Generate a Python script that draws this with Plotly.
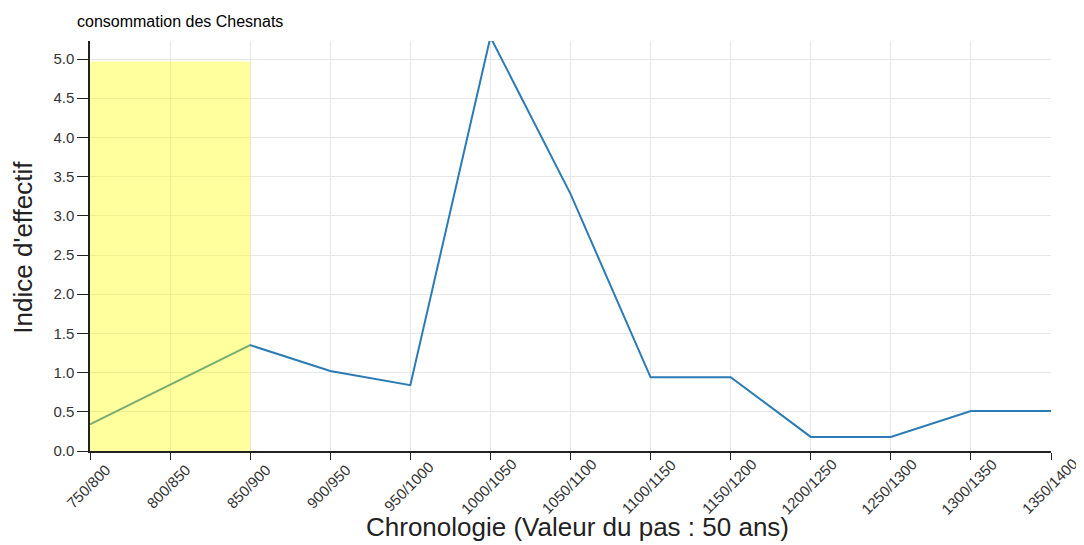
import plotly.graph_objects as go

periods = ["750/800", "800/850", "850/900", "900/950", "950/1000", "1000/1050",
           "1050/1100", "1100/1150", "1150/1200", "1200/1250", "1250/1300",
           "1300/1350", "1350/1400"]
indice = [0.34, 0.84, 1.35, 1.02, 0.84, 5.28, 3.28, 0.94, 0.94, 0.18, 0.18, 0.51, 0.51]
highlight_start = "750/800"
highlight_end = "850/900"
highlight_top = 4.97
y_max = 5.23

FONT = "Liberation Sans, Arial, sans-serif"

fig = go.Figure()
fig.add_trace(go.Scatter(
    x=periods, y=indice, mode="lines",
    line=dict(color="#2b7bb4", width=2), cliponaxis=False, showlegend=False,
))
fig.add_shape(type="rect", xref="x", yref="y",
              x0=periods.index(highlight_start), x1=periods.index(highlight_end),
              y0=0, y1=highlight_top, fillcolor="#ffff00", opacity=0.38,
              line=dict(width=0), layer="above")

annotations = [
    dict(text="consommation des Chesnats", xref="paper", yref="paper",
         x=0, y=1, xanchor="left", yanchor="middle", xshift=-15, yshift=20,
         showarrow=False, font=dict(size=16, color="#000")),
    dict(text="Chronologie (Valeur du pas : 50 ans)", xref="paper", yref="paper",
         x=0.507, y=0, xanchor="center", yanchor="middle", yshift=-76,
         showarrow=False, font=dict(size=26, color="#222")),
    dict(text="Indice d'effectif", xref="paper", yref="paper", textangle=-90,
         x=0, y=0.496, xanchor="center", yanchor="middle", xshift=-67,
         showarrow=False, font=dict(size=26, color="#222")),
]
for p in periods:
    annotations.append(dict(text=p, xref="x", yref="paper", x=p, y=0,
                            xanchor="center", yanchor="middle",
                            xshift=-2, yshift=-35,
                            textangle=-45, showarrow=False,
                            font=dict(size=15, color="#333")))

fig.update_layout(
    width=1076, height=537,
    margin=dict(l=82, r=33, t=33, b=94, autoexpand=False),
    plot_bgcolor="white", paper_bgcolor="white",
    font=dict(family=FONT, color="#222"),
    annotations=annotations,
)
fig.update_xaxes(
    type="category", range=[0, len(periods) - 1], automargin=False,
    showline=True, linecolor="#222", linewidth=1.5,
    ticks="outside", ticklen=7, tickcolor="#222", showticklabels=False,
    showgrid=True, gridcolor="#e6e6e6",
)
fig.update_yaxes(
    range=[0, y_max], tick0=0, dtick=0.5, tickformat=".1f", automargin=False,
    showline=True, linecolor="#222", linewidth=1.5,
    ticks="outside", ticklen=11, tickcolor="#222",
    tickfont=dict(size=15, color="#333"),
    showgrid=True, gridcolor="#e6e6e6", zeroline=False,
)

fig.write_html("out.html")
